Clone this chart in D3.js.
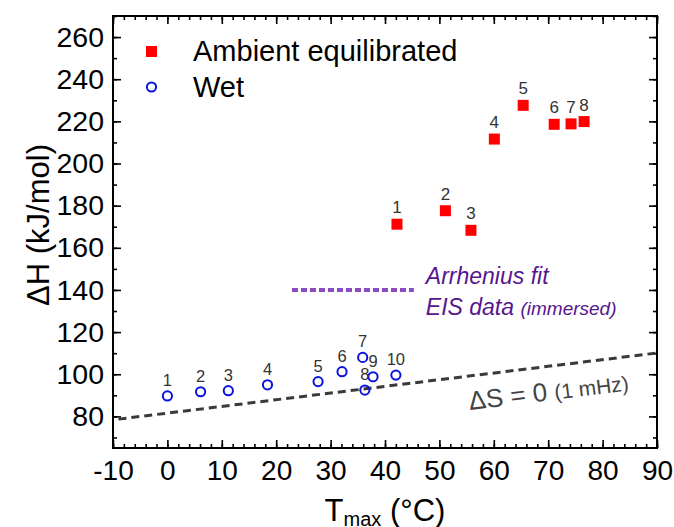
<!DOCTYPE html>
<html>
<head>
<meta charset="utf-8">
<script src="https://cdn.jsdelivr.net/npm/d3@7"></script>
<style>
body { margin: 0; background: #fff; }
text { font-family: Arial, "Liberation Sans", sans-serif; }
</style>
</head>
<body>
<div id="chart"></div>
<script>
// data
var ambientT = [42.2, 51.1, 55.8, 60.1, 65.4, 71.1, 74.2, 76.6]
var ambientH = [171.2, 177.6, 168.3, 211.6, 227.6, 218.6, 218.8, 219.9]
var wetT = [0.0, 6.1, 11.2, 18.4, 27.7, 32.1, 35.9, 36.3, 37.8, 42.0]
var wetH = [89.7, 91.7, 92.2, 95.0, 96.5, 101.2, 108.0, 92.5, 98.8, 99.6]
var entropyT = [-9, 90]
var entropyH = [78.7, 110.1]
var arrheniusT = [22.9, 45.3]
var arrheniusH = [140, 140]
var xTicks = [-10, 0, 10, 20, 30, 40, 50, 60, 70, 80, 90]
var yTicks = [80, 100, 120, 140, 160, 180, 200, 220, 240, 260]

var width = 674, height = 527
var margin = { top: 16, left: 113, right: 17, bottom: 79 }
var w = width - margin.left - margin.right
var h = height - margin.top - margin.bottom

var svg = d3.select('#chart').append('svg')
  .attr('width', width).attr('height', height)
var g = svg.append('g')
  .attr('transform', 'translate(' + margin.left + ',' + margin.top + ')')

var x = d3.scaleLinear().domain([-10, 90]).range([0, w])
var y = d3.scaleLinear().domain([65, 270]).range([h, 0])

var xMinor = d3.range(-10, 90.1, 2)
var yMinor = d3.range(70, 270.1, 10)

function styleAxis(sel) {
  sel.select('.domain').remove()
  sel.selectAll('line').attr('stroke', '#000').attr('stroke-width', 1.6)
}

// minor ticks
g.append('g').attr('transform', 'translate(0,' + h + ')')
  .call(d3.axisBottom(x).tickValues(xMinor).tickSize(-4).tickFormat(''))
  .call(styleAxis)
g.append('g')
  .call(d3.axisTop(x).tickValues(xMinor).tickSize(-4).tickFormat(''))
  .call(styleAxis)
g.append('g')
  .call(d3.axisLeft(y).tickValues(yMinor).tickSize(-4).tickFormat(''))
  .call(styleAxis)
g.append('g').attr('transform', 'translate(' + w + ',0)')
  .call(d3.axisRight(y).tickValues(yMinor).tickSize(-4).tickFormat(''))
  .call(styleAxis)

// major ticks
g.append('g').attr('transform', 'translate(0,' + h + ')')
  .call(d3.axisBottom(x).tickValues(xTicks).tickSize(-8).tickPadding(12).tickFormat(d => String(d)))
  .call(styleAxis)
  .selectAll('text').attr('font-size', 28).attr('fill', '#000')
g.append('g')
  .call(d3.axisTop(x).tickValues(xTicks).tickSize(-8).tickFormat(''))
  .call(styleAxis)
g.append('g')
  .call(d3.axisLeft(y).tickValues(yTicks).tickSize(-8).tickPadding(9).tickFormat(d => String(d)))
  .call(styleAxis)
  .selectAll('text').attr('font-size', 28.5).attr('fill', '#000')
g.append('g').attr('transform', 'translate(' + w + ',0)')
  .call(d3.axisRight(y).tickValues(yTicks).tickSize(-8).tickFormat(''))
  .call(styleAxis)

g.append('rect').attr('width', w).attr('height', h)
  .attr('fill', 'none').attr('stroke', '#000').attr('stroke-width', 2)

// dS = 0 line
var line = d3.line().x(d => x(d[0])).y(d => y(d[1]))
g.append('path')
  .datum(d3.zip(entropyT, entropyH))
  .attr('d', line)
  .attr('fill', 'none').attr('stroke', '#3a3a3a')
  .attr('stroke-width', 3).attr('stroke-dasharray', '8,5')

var ang = Math.atan2(y(entropyH[1]) - y(entropyH[0]), x(entropyT[1]) - x(entropyT[0])) * 180 / Math.PI
var lab = g.append('text')
  .attr('transform', 'translate(' + x(55.6) + ',' + y(83) + ') rotate(' + ang + ')')
  .attr('fill', '#444')
lab.append('tspan').attr('font-size', 26).text('ΔS = 0 ')
lab.append('tspan').attr('font-size', 21).text('(1 mHz)')

// arrhenius
g.append('path')
  .datum(d3.zip(arrheniusT, arrheniusH))
  .attr('d', line)
  .attr('fill', 'none').attr('stroke', '#8a4cc0')
  .attr('stroke-width', 4).attr('stroke-dasharray', '6,3')
g.append('text')
  .attr('x', x(arrheniusT[1]) + 12).attr('y', y(arrheniusH[0]) - 6)
  .attr('font-size', 23).attr('font-style', 'italic').attr('fill', '#55168f')
  .text('Arrhenius fit')
var eis = g.append('text')
  .attr('x', x(arrheniusT[1]) + 12).attr('y', y(arrheniusH[0]) + 25)
  .attr('font-style', 'italic').attr('fill', '#55168f')
eis.append('tspan').attr('font-size', 23).text('EIS data ')
eis.append('tspan').attr('font-size', 19).text('(immersed)')

// wet points
var wet = d3.zip(wetT, wetH)
g.selectAll('.wet').data(wet).enter().append('circle')
  .attr('class', 'wet')
  .attr('cx', d => x(d[0])).attr('cy', d => y(d[1])).attr('r', 4.6)
  .attr('fill', 'none').attr('stroke', '#0a14e0').attr('stroke-width', 2)
g.selectAll('.wetlab').data(wet).enter().append('text')
  .attr('class', 'wetlab')
  .attr('x', d => x(d[0])).attr('y', d => y(d[1]) - 10)
  .attr('text-anchor', 'middle').attr('font-size', 16.5).attr('fill', '#333')
  .text((d, i) => i + 1)

// ambient points
var amb = d3.zip(ambientT, ambientH)
g.selectAll('.amb').data(amb).enter().append('rect')
  .attr('class', 'amb')
  .attr('x', d => x(d[0]) - 5.5).attr('y', d => y(d[1]) - 5.5)
  .attr('width', 11).attr('height', 11)
  .attr('fill', '#f00')
g.selectAll('.amblab').data(amb).enter().append('text')
  .attr('class', 'amblab')
  .attr('x', d => x(d[0])).attr('y', d => y(d[1]) - 11)
  .attr('text-anchor', 'middle').attr('font-size', 17).attr('fill', '#333')
  .text((d, i) => i + 1)

// legend
svg.append('rect').attr('x', 146).attr('y', 46).attr('width', 11).attr('height', 11).attr('fill', '#f00')
svg.append('text').attr('x', 193).attr('y', 61).attr('font-size', 29).text('Ambient equilibrated')
svg.append('circle').attr('cx', 151.5).attr('cy', 87).attr('r', 4.6)
  .attr('fill', 'none').attr('stroke', '#0a14e0').attr('stroke-width', 2)
svg.append('text').attr('x', 193).attr('y', 97).attr('font-size', 29).text('Wet')

// axis titles
svg.append('text')
  .attr('transform', 'translate(49,225) rotate(-90)')
  .attr('text-anchor', 'middle').attr('font-size', 31)
  .text('ΔH (kJ/mol)')
var xt = svg.append('text')
  .attr('x', margin.left + w / 2).attr('y', 521)
  .attr('text-anchor', 'middle').attr('font-size', 31)
xt.append('tspan').text('T')
xt.append('tspan').attr('font-size', 20).attr('dy', 5).text('max')
xt.append('tspan').attr('dy', -5).text(' (°C)')
</script>
</body>
</html>
